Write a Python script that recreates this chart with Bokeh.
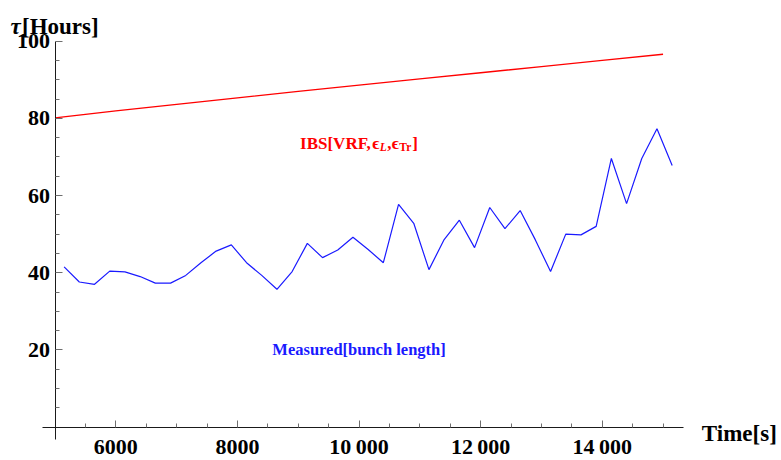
from bokeh.plotting import figure
from bokeh.models import FixedTicker, Label, Range1d, LinearAxis
from bokeh.embed import file_html
from bokeh.resources import INLINE

# ---- data ----
ibs_time = [5000, 6000, 7000, 8000, 9000, 10000, 11000, 12000, 13000, 14000, 15000]
ibs_tau = [80.1, 81.9, 83.6, 85.3, 87.0, 88.6, 90.2, 91.8, 93.4, 95.0, 96.6]

meas_time = [5150, 5400, 5650, 5900, 6150, 6400, 6650, 6900, 7150, 7400,
             7650, 7900, 8150, 8400, 8650, 8900, 9150, 9400, 9650, 9900,
             10150, 10400, 10650, 10900, 11150, 11400, 11650, 11900, 12150, 12400,
             12650, 12900, 13150, 13400, 13650, 13900, 14150, 14400, 14650, 14900,
             15150]
meas_tau = [41.5, 37.6, 37.0, 40.4, 40.2, 39.0, 37.3, 37.3, 39.3, 42.6,
            45.6, 47.2, 42.6, 39.3, 35.7, 40.3, 47.6, 43.9, 45.9, 49.2,
            46.0, 42.6, 57.7, 52.8, 40.8, 48.6, 53.6, 46.5, 56.9, 51.4,
            56.1, 48.5, 40.3, 50.0, 49.8, 52.0, 69.6, 57.9, 69.6, 77.3,
            67.8]

x_major = [6000, 8000, 10000, 12000, 14000]
x_major_labels = ["6000", "8000", "10\u2009000", "12\u2009000", "14\u2009000"]
x_minor = [5500, 6500, 7000, 7500, 8500, 9000, 9500, 10500, 11000, 11500,
           12500, 13000, 13500, 14500, 15000]
y_major = [20, 40, 60, 80, 100]
y_minor = [5, 10, 15, 25, 30, 35, 45, 50, 55, 65, 70, 75, 85, 90, 95]

x_origin = 5000
y_origin = 0
x_axis_extent = (4790, 15342)
y_axis_extent = (-3.2, 100)

FONT = "Liberation Serif"

p = figure(width=781, height=460, output_backend="svg", toolbar_location=None,
           x_range=Range1d(4103.6, 16948.0), y_range=Range1d(-8.65, 110.52),
           x_axis_type=None, y_axis_type=None,
           min_border_left=0, min_border_right=0, min_border_top=0, min_border_bottom=0)
p.outline_line_color = None
p.background_fill_color = "white"
p.border_fill_color = "white"

def style_axis(ax):
    ax.axis_line_color = "#1a1a1a"
    ax.axis_line_width = 1
    ax.major_tick_line_color = "#6e6e6e"
    ax.minor_tick_line_color = "#6e6e6e"
    ax.major_tick_out = 0
    ax.minor_tick_out = 0
    ax.major_tick_in = 7
    ax.minor_tick_in = 4
    ax.major_label_text_font = FONT
    ax.major_label_text_font_style = "bold"
    ax.major_label_text_font_size = "22px"
    ax.major_label_text_color = "black"

xaxis = LinearAxis(fixed_location=y_origin, bounds=x_axis_extent,
                   ticker=FixedTicker(ticks=x_major, minor_ticks=x_minor))
style_axis(xaxis)
xaxis.major_label_overrides = {t: s for t, s in zip(x_major, x_major_labels)}
xaxis.major_label_standoff = 7
p.add_layout(xaxis, "below")

yaxis = LinearAxis(fixed_location=x_origin, bounds=y_axis_extent,
                   ticker=FixedTicker(ticks=y_major, minor_ticks=y_minor))
style_axis(yaxis)
yaxis.major_label_standoff = 5
p.add_layout(yaxis, "left")

p.line(ibs_time, ibs_tau, line_color="#ff0000", line_width=1.3)
p.line(meas_time, meas_tau, line_color="#1a1aff", line_width=1.2)

# axis labels
p.add_layout(Label(x=x_origin, y=100, text="\u03c4", x_offset=-44.5, y_offset=14.6,
                   text_font=FONT, text_font_style="bold italic", text_font_size="23px",
                   text_align="left", text_baseline="alphabetic", text_color="black"))
p.add_layout(Label(x=x_origin, y=100, text="[Hours]", x_offset=-33, y_offset=14.6,
                   text_font=FONT, text_font_style="bold", text_font_size="23px",
                   text_align="left", text_baseline="alphabetic", text_color="black"))
p.add_layout(Label(x=x_axis_extent[1], y=y_origin, text="Time[s]", x_offset=18, y_offset=-6.4,
                   text_font=FONT, text_font_style="bold", text_font_size="23px",
                   text_align="left", text_baseline="middle", text_color="black"))

# curve labels
lab_x = 10000
ibs_y = 75
pieces = [
    ("IBS[VRF,", -59, -6, "17px", "bold"),
    ("\u03f5", 13.3, -6, "17px", "bold"),
    ("L", 20.8, -9.5, "11.5px", "bold italic"),
    (",", 28.3, -6, "17px", "bold"),
    ("\u03f5", 32.8, -6, "17px", "bold"),
    ("Tr", 40.3, -9.5, "11.5px", "bold"),
    ("]", 53.3, -6, "17px", "bold"),
]
for txt, xo, yo, fs, st in pieces:
    p.add_layout(Label(x=lab_x, y=ibs_y, text=txt, x_offset=xo, y_offset=yo,
                       text_font=FONT, text_font_style=st, text_font_size=fs,
                       text_align="left", text_baseline="alphabetic", text_color="#ff0000"))

p.add_layout(Label(x=lab_x, y=20, text="Measured[bunch length]",
                   text_font=FONT, text_font_style="bold", text_font_size="16.5px",
                   text_align="center", text_baseline="middle", text_color="#1a1aff"))

open("out.html", "w").write(file_html(p, INLINE))
